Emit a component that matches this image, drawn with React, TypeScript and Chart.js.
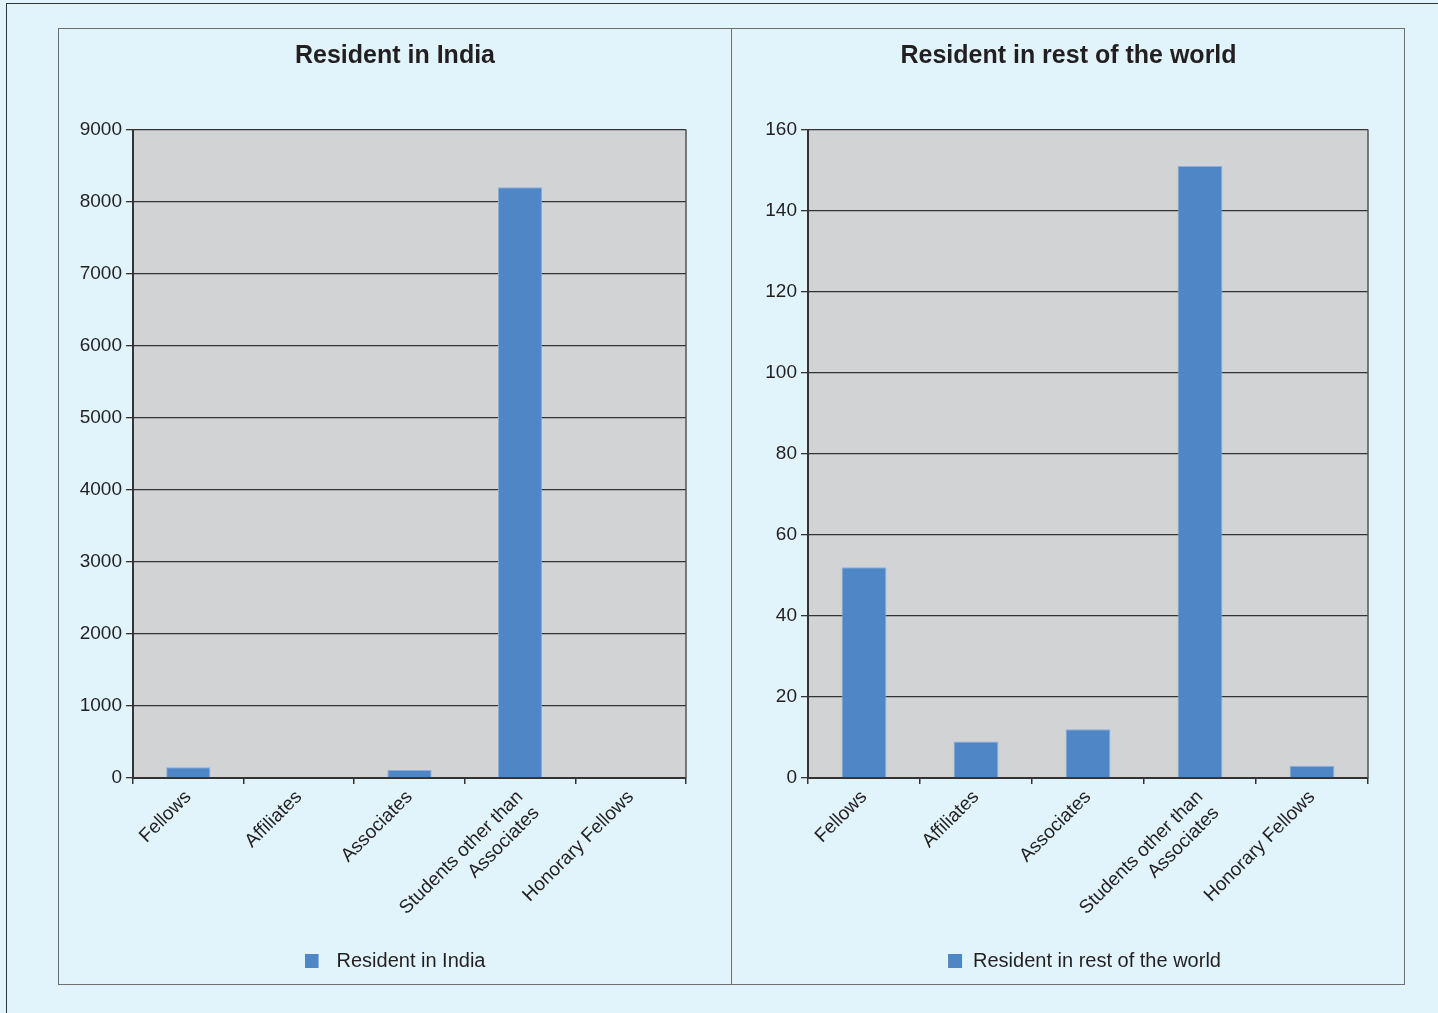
import React, { useEffect, useRef } from "react";
import { Chart, registerables } from "chart.js";

Chart.register(...registerables);

const categories: (string | string[])[] = [
  "Fellows",
  "Affiliates",
  "Associates",
  ["Students other than", "Associates"],
  "Honorary Fellows",
];
const indiaValues = [150, 0, 110, 8200, 0];
const worldValues = [52, 9, 12, 151, 3];
const indiaTicks = [0, 1000, 2000, 3000, 4000, 5000, 6000, 7000, 8000, 9000];
const worldTicks = [0, 20, 40, 60, 80, 100, 120, 140, 160];

const FONT = "'Liberation Sans', Arial, Helvetica, sans-serif";
const BAR = "#4f86c6";
const TEXT = "#231f20";

function makeLegendIcon(w: number, offset: number) {
  const c = document.createElement("canvas");
  c.width = w;
  c.height = 14;
  const g = c.getContext("2d")!;
  g.fillStyle = BAR;
  g.fillRect(offset, 0, 14, 14);
  return c;
}

const plotBg = {
  id: "plotBg",
  beforeDraw(chart: any) {
    const { ctx, chartArea } = chart;
    if (!chartArea) return;
    ctx.save();
    ctx.fillStyle = "#d1d3d4";
    ctx.fillRect(chartArea.left, chartArea.top, chartArea.right - chartArea.left, chartArea.bottom - chartArea.top);
    ctx.restore();
  },
  afterDraw(chart: any) {
    const { ctx, chartArea } = chart;
    ctx.save();
    ctx.strokeStyle = "#555";
    ctx.lineWidth = 1.5;
    ctx.beginPath();
    ctx.moveTo(chartArea.right, chartArea.top);
    ctx.lineTo(chartArea.right, chartArea.bottom);
    ctx.stroke();
    ctx.restore();
  },
};

type PanelProps = {
  title: string;
  values: number[];
  ticks: number[];
  left: number;
  width: number;
  yWidth: number;
  padRight: number;
  iconW: number;
  iconOff: number;
};

function Panel({ title, values, ticks, left, width, yWidth, padRight, iconW, iconOff }: PanelProps) {
  const ref = useRef<HTMLCanvasElement>(null);
  useEffect(() => {
    if (!ref.current) return;
    const chart = new Chart(ref.current, {
      type: "bar",
      data: {
        labels: categories,
        datasets: [
          {
            label: title,
            data: values,
            backgroundColor: BAR,
            borderColor: "#8caedb",
            borderWidth: 1,
            borderSkipped: "bottom",
            barPercentage: 0.8,
            categoryPercentage: 0.5,
          },
        ],
      },
      options: {
        animation: false,
        responsive: true,
        maintainAspectRatio: false,
        layout: { padding: { left: 0, right: 0, top: 0, bottom: 4 } },
        plugins: {
          title: {
            display: true,
            text: title,
            color: TEXT,
            font: { family: FONT, size: 25, weight: "bold" },
            padding: { top: 12.5, bottom: 58 },
          },
          legend: {
            position: "bottom",
            labels: {
              color: TEXT,
              font: { family: FONT, size: 20 },
              usePointStyle: true,
              pointStyle: makeLegendIcon(iconW, iconOff) as any,
              pointStyleWidth: iconW,
              boxHeight: 14,
            },
          },
          tooltip: { enabled: false },
        },
        scales: {
          x: {
            offset: true,
            grid: {
              display: true,
              offset: true,
              drawOnChartArea: false,
              drawTicks: true,
              tickLength: 6,
              color: "#333",
              lineWidth: 1.5,
            },
            border: { display: true, color: "#333", width: 2 },
            ticks: {
              autoSkip: false,
              maxRotation: 45,
              minRotation: 45,
              padding: 2,
              color: TEXT,
              font: { family: FONT, size: 19 },
            },
            afterFit: (s: any) => {
              s.height = 163;
            },
          },
          y: {
            min: ticks[0],
            max: ticks[ticks.length - 1],
            ticks: {
              stepSize: ticks[1] - ticks[0],
              padding: 4,
              color: TEXT,
              font: { family: FONT, size: 19 },
              callback: (v: any) => String(v),
            },
            grid: { color: "#333", lineWidth: 1.3, tickLength: 7 },
            border: { display: true, color: "#333", width: 2 },
            afterFit: (s: any) => {
              s.width = yWidth;
            },
          },
          yRightSpace: {
            position: "right",
            display: true,
            grid: { display: false, drawTicks: false },
            border: { display: false },
            ticks: { display: false },
            afterFit: (s: any) => {
              s.width = padRight;
            },
          },
        },
      } as any,
      plugins: [plotBg],
    });
    return () => chart.destroy();
  }, []);
  return (
    <div style={{ position: "absolute", left, top: 29, width, height: 956 }}>
      <canvas ref={ref} />
    </div>
  );
}

export default function App() {
  return (
    <div
      style={{
        position: "fixed",
        left: 0,
        top: 0,
        width: 1438,
        height: 1013,
        background: "#e1f4fb",
        overflow: "hidden",
      }}
    >
      <div
        style={{
          position: "absolute",
          left: 6,
          top: 3,
          width: 1450,
          height: 1030,
          border: "1.5px solid #333",
        }}
      />
      <div
        style={{
          position: "absolute",
          left: 57.5,
          top: 27.5,
          width: 1347,
          height: 957,
          border: "1.5px solid #6d6e71",
          boxSizing: "border-box",
        }}
      />
      <div
        style={{
          position: "absolute",
          left: 730.5,
          top: 28,
          width: 1.5,
          height: 957,
          background: "#6d6e71",
        }}
      />
      <Panel title="Resident in India" values={indiaValues} ticks={indiaTicks} left={59} width={672} yWidth={74} padRight={45} iconW={22} iconOff={0} />
      <Panel title="Resident in rest of the world" values={worldValues} ticks={worldTicks} left={732} width={673} yWidth={76} padRight={37} iconW={47} iconOff={32} />
    </div>
  );
}
